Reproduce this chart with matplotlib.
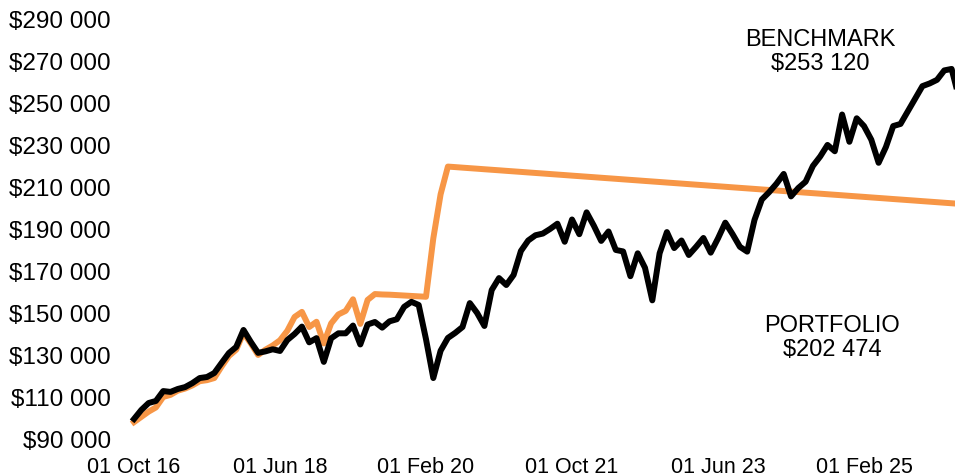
import matplotlib
matplotlib.use("Agg")
import matplotlib.pyplot as plt
from matplotlib.ticker import FuncFormatter

plt.rcParams['font.family'] = ['Liberation Sans', 'DejaVu Sans']

# Monthly values (thousands of $), Oct 2016 .. Mar 2026
benchmark = [
    100.0, 104.3, 107.6, 108.6, 113.3, 112.9, 114.3, 115.2, 117.1, 119.5,
    120.0, 121.9, 126.7, 131.4, 134.3, 142.4, 136.7, 131.5, 132.2, 133.2,
    132.4, 137.6, 140.5, 144.0, 136.5, 138.5, 127.2, 138.4, 140.8, 140.8,
    144.5, 135.5, 145.0, 146.2, 143.5, 146.5, 147.5, 153.4, 155.8, 154.3,
    138.0, 119.5, 132.5, 138.6, 141.0, 143.8, 155.2, 150.5, 144.3, 161.4,
    167.1, 163.8, 168.6, 180.0, 185.0, 187.5, 188.3, 190.5, 193.0, 184.4,
    195.0, 188.0, 198.4, 192.0, 184.8, 189.3, 180.5, 179.8, 168.0, 178.9,
    172.0, 156.5, 178.9, 189.0, 181.4, 185.0, 178.1, 182.0, 186.2, 179.2,
    186.0, 193.5, 188.0, 182.0, 179.7, 194.8, 204.5, 208.0, 212.0, 216.7,
    206.0, 210.0, 213.0, 220.5, 225.0, 230.5, 227.5, 245.0, 232.0, 243.2,
    239.5, 233.0, 222.0, 229.5, 239.5, 240.5, 246.5, 252.5, 258.5, 259.8,
    261.5, 266.0, 266.7, 253.12,
]
portfolio = [
    98.5, 101.0, 103.5, 105.5, 110.5, 111.5, 113.5, 114.5, 116.0, 118.0,
    118.5, 119.5, 125.0, 130.0, 133.0, 141.0, 136.0, 130.5, 133.0, 135.0,
    137.5, 142.0, 148.6, 151.0, 143.8, 146.3, 136.0, 145.5, 149.8, 151.5,
    157.0, 145.3, 156.7, 159.5, 159.3, 159.2, 159.0, 158.8, 158.6, 158.4,
    158.2, 186.0, 207.0, 220.20, 219.95, 219.69, 219.44, 219.19, 218.93, 218.68,
    218.43, 218.17, 217.92, 217.67, 217.41, 217.16, 216.91, 216.65, 216.40, 216.15,
    215.89, 215.64, 215.39, 215.14, 214.88, 214.63, 214.38, 214.12, 213.87, 213.62,
    213.36, 213.11, 212.86, 212.60, 212.35, 212.10, 211.84, 211.59, 211.34, 211.08,
    210.83, 210.58, 210.32, 210.07, 209.82, 209.57, 209.31, 209.06, 208.81, 208.55,
    208.30, 208.05, 207.79, 207.54, 207.29, 207.03, 206.78, 206.53, 206.27, 206.02,
    205.77, 205.51, 205.26, 205.01, 204.75, 204.50, 204.25, 204.00, 203.74, 203.49,
    203.24, 202.98, 202.73, 202.474,
]
tick_positions = [0, 20, 40, 60, 80, 100]
tick_labels = ["01 Oct 16", "01 Jun 18", "01 Feb 20", "01 Oct 21", "01 Jun 23", "01 Feb 25"]
y_ticks = [90, 110, 130, 150, 170, 190, 210, 230, 250, 270, 290]

W, H = 955, 476
fig = plt.figure(figsize=(W / 100, H / 100), dpi=100)
ax = fig.add_axes([125 / W, (H - 440) / H, (955 - 125) / W, 420 / H])

x = list(range(len(benchmark)))
ax.plot(x, [v * 1000 for v in portfolio], color="#F79646", lw=4.3, solid_joinstyle="round", zorder=2)
ax.plot(x, [v * 1000 for v in benchmark], color="black", lw=4.3, solid_joinstyle="round", zorder=3)

ax.set_ylim(90000, 290000)
ax.set_xlim(-9 / 7.3, (955 - 134) / 7.3)
ax.set_yticks([v * 1000 for v in y_ticks])
ax.yaxis.set_major_formatter(FuncFormatter(lambda v, p: "$" + f"{int(v):,}".replace(",", " ")))
ax.set_xticks(tick_positions)
ax.set_xticklabels(tick_labels)
ax.tick_params(axis="both", length=0)
ax.tick_params(axis="y", labelsize=17.5, pad=10)
ax.tick_params(axis="x", labelsize=15.5, pad=12)
for s in ax.spines.values():
    s.set_visible(False)

fig.text(820 / W, 1 - 52 / H, "BENCHMARK\n$253 120", ha="center", va="center",
         fontsize=17, linespacing=1.15)
fig.text(832 / W, 1 - 338 / H, "PORTFOLIO\n$202 474", ha="center", va="center",
         fontsize=17, linespacing=1.15)

fig.savefig("out.png", dpi=100)
